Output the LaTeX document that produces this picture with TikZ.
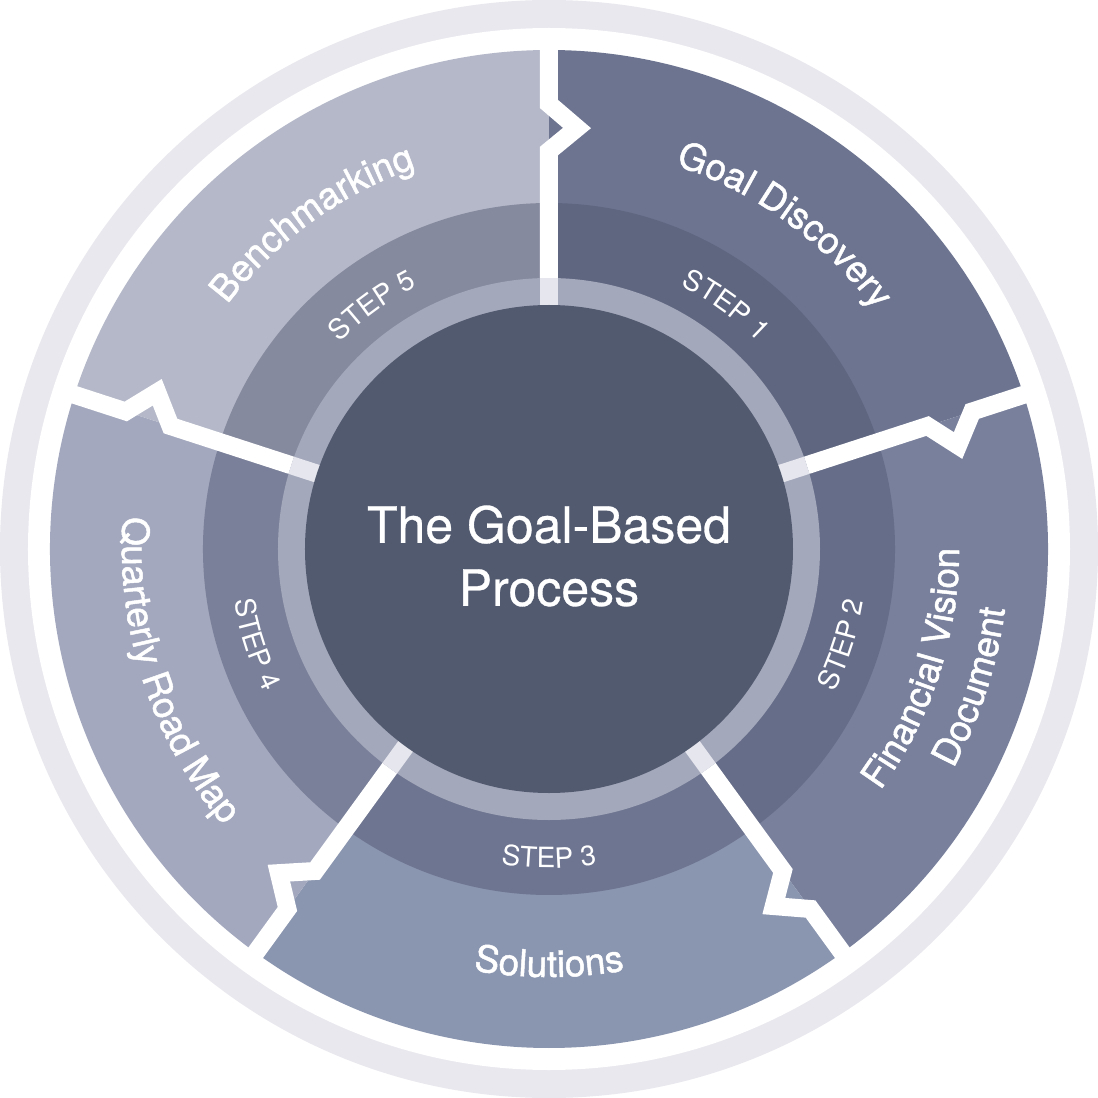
\documentclass[tikz,border=0pt]{standalone}
\usepackage{fontspec}
\setmainfont{TeX Gyre Heros}
\newfontfamily\labelfont[FakeBold=1.3]{TeX Gyre Heros}
\newfontfamily\hubfont[FakeBold=0.6]{TeX Gyre Heros}
\usepackage{xcolor}
\usepackage{tikz}
\usetikzlibrary{decorations.text}

\definecolor{ringgray}{HTML}{E8E8EE}
\definecolor{hubcol}{HTML}{525A70}
\definecolor{hubring}{HTML}{A4A8BB}
\definecolor{hubline}{HTML}{E6E7EE}
\definecolor{outerA}{HTML}{6C7490}
\definecolor{bandA}{HTML}{5F6680}
\definecolor{outerB}{HTML}{78809C}
\definecolor{bandB}{HTML}{666D88}
\definecolor{outerC}{HTML}{8A95AF}
\definecolor{bandC}{HTML}{6E7590}
\definecolor{outerD}{HTML}{A3A8BE}
\definecolor{bandD}{HTML}{7A8099}
\definecolor{outerE}{HTML}{B4B8C8}
\definecolor{bandE}{HTML}{868A9E}

\begin{document}
\begin{tikzpicture}[
  x=1pt, y=1pt,
  divider/.style={draw=white, line width=18pt, line join=miter},
  divhub/.style={draw=hubline, line width=18pt},
  labeltext/.style={decorate, decoration={text along path, text align=center, text color=white,
    text={|\labelfont\fontsize{37}{44}\selectfont|#1}}},
  steptext/.style={decorate, decoration={text along path, text align=center, text color=white,
    text={|\fontsize{28}{32}\selectfont|#1}}}
]
  \useasboundingbox (-549,-549) rectangle (549,549);

  % Outer ring
  \fill[ringgray] (0,0) circle[radius=549];
  \fill[white] (0,0) circle[radius=521];

  % Sectors and step bands
  \foreach \s/\e/\co/\cb in {18/90/outerA/bandA, -54/18/outerB/bandB, -126/-54/outerC/bandC,
                             162/234/outerD/bandD, 90/162/outerE/bandE} {
    \fill[\co] (0,0) -- (\s:499) arc[start angle=\s, end angle=\e, radius=499] -- cycle;
    \fill[\cb] (0,0) -- (\s:346) arc[start angle=\s, end angle=\e, radius=346] -- cycle;
  }

  % Hub ring
  \fill[hubring] (0,0) circle[radius=271];

  % Dividers
  \foreach \a in {90,18,-54,-126,162} {
    \draw[divider, rotate=\a] (512,0) -- (445,0) -- (421,-28) -- (398,0) -- (271,0);
    \draw[divhub, rotate=\a] (271,0) -- (236,0);
  }

  % Hub
  \fill[hubcol] (0,0) circle[radius=244];
  \node[font=\hubfont\fontsize{50}{63}\selectfont, text=white, align=center, inner sep=0] (process) at (0,-7)
    {The Goal-Based\\Process};

  % Sector labels
  \path[labeltext={Goal Discovery}] (90:404) arc[start angle=90, end angle=18, radius=404];
  \path[labeltext={Benchmarking}] (162:404) arc[start angle=162, end angle=90, radius=404];
  \path[labeltext={Financial Vision}] (-54:410) arc[start angle=-54, end angle=18, radius=410];
  \path[labeltext={Document}] (-54:460) arc[start angle=-54, end angle=18, radius=460];
  \path[labeltext={Solutions}] (-126:428) arc[start angle=-126, end angle=-54, radius=428];
  \path[labeltext={Quarterly Road Map}] (162:427) arc[start angle=162, end angle=234, radius=427];

  % Step labels
  \path[steptext={STEP 1}] (90:294) arc[start angle=90, end angle=18, radius=294];
  \path[steptext={STEP 5}] (162:294) arc[start angle=162, end angle=90, radius=294];
  \path[steptext={STEP 2}] (-54:319) arc[start angle=-54, end angle=18, radius=319];
  \path[steptext={STEP 3}] (-126:319) arc[start angle=-126, end angle=-54, radius=319];
  \path[steptext={STEP 4}] (162:319) arc[start angle=162, end angle=234, radius=319];
\end{tikzpicture}
\end{document}
